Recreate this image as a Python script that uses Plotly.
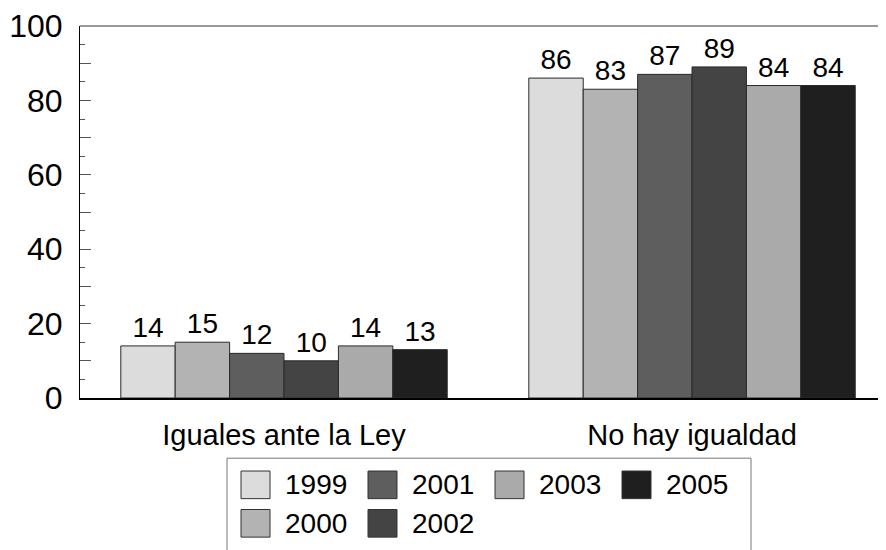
import plotly.graph_objects as go

# data
categories = ['Iguales ante la Ley', 'No hay igualdad']
years = ['1999', '2000', '2001', '2002', '2003', '2005']
values = {
    '1999': [14, 86],
    '2000': [15, 83],
    '2001': [12, 87],
    '2002': [10, 89],
    '2003': [14, 84],
    '2005': [13, 84],
}
colors = {
    '1999': '#dcdcdc',
    '2000': '#b3b3b3',
    '2001': '#5e5e5e',
    '2002': '#444444',
    '2003': '#aaaaaa',
    '2005': '#1f1f1f',
}
# legend layout as in the original: two rows
legend_rows = [['1999', '2001', '2003', '2005'], ['2000', '2002']]

FONT = 'Liberation Sans, Arial, sans-serif'

# figure / plot area in pixels (used to place the hand-made legend)
W, H = 886, 550
L, T, B = 72, 13, 160
PW = W - L
PH = H - T - B


def px_x(x):
    return (x - L) / PW


def px_y(y):
    return (H - B - y) / PH


fig = go.Figure()

for yr in years:
    fig.add_trace(go.Bar(
        x=categories, y=values[yr], name=yr,
        marker=dict(color=colors[yr], line=dict(color='#2a2a2a', width=1)),
        text=[str(v) for v in values[yr]], textposition='outside',
        textfont=dict(size=28, color='black', family=FONT),
        cliponaxis=False, showlegend=False,
    ))

# legend box (bottom runs off the page like in the original)
fig.add_shape(type='rect', xref='paper', yref='paper',
              x0=px_x(219), x1=px_x(743), y0=px_y(575), y1=px_y(451),
              line=dict(color='#777777', width=1), fillcolor='white', layer='above')

col_x = [233, 360, 487, 614]
row_y = [478, 517]
for r, row in enumerate(legend_rows):
    for c, yr in enumerate(row):
        x0 = col_x[c]
        yc = row_y[r]
        fig.add_shape(type='rect', xref='paper', yref='paper',
                      x0=px_x(x0), x1=px_x(x0 + 29),
                      y0=px_y(yc + 14), y1=px_y(yc - 14),
                      line=dict(color='#333333', width=1),
                      fillcolor=colors[yr], layer='above')
        fig.add_annotation(xref='paper', yref='paper',
                           x=px_x(x0 + 42), y=px_y(yc), text=yr,
                           showarrow=False, xanchor='left', yanchor='middle',
                           font=dict(size=28, color='black', family=FONT))

# grey top frame line
fig.add_shape(type='line', xref='paper', yref='paper', x0=0, x1=1, y0=1, y1=1,
              line=dict(color='#777777', width=1.5))

fig.update_layout(
    width=W, height=H,
    margin=dict(l=L, r=0, t=T, b=B),
    paper_bgcolor='white', plot_bgcolor='white',
    barmode='group', bargap=0.2, bargroupgap=0,
    font=dict(family=FONT, color='black'),
    xaxis=dict(
        range=[-0.5, 1.495], showgrid=False, ticks='',
        showline=True, linecolor='black', linewidth=1.5,
        tickfont=dict(size=29, color='black'),
        ticklabelstandoff=10,
    ),
    yaxis=dict(
        range=[0, 100], showgrid=False, zeroline=False,
        showline=True, linecolor='black', linewidth=1,
        tickvals=list(range(0, 101, 10)),
        ticktext=[str(v) if v % 20 == 0 else '' for v in range(0, 101, 10)],
        ticks='inside', ticklen=11, tickcolor='#555555', tickwidth=1,
        minor=dict(dtick=5, tick0=0, ticks='inside', ticklen=5,
                   tickcolor='#555555', tickwidth=1, showgrid=False),
        tickfont=dict(size=32, color='black'),
        ticklabelstandoff=10,
        ticklabeloverflow='allow',
    ),
)

fig.write_html('out.html')
